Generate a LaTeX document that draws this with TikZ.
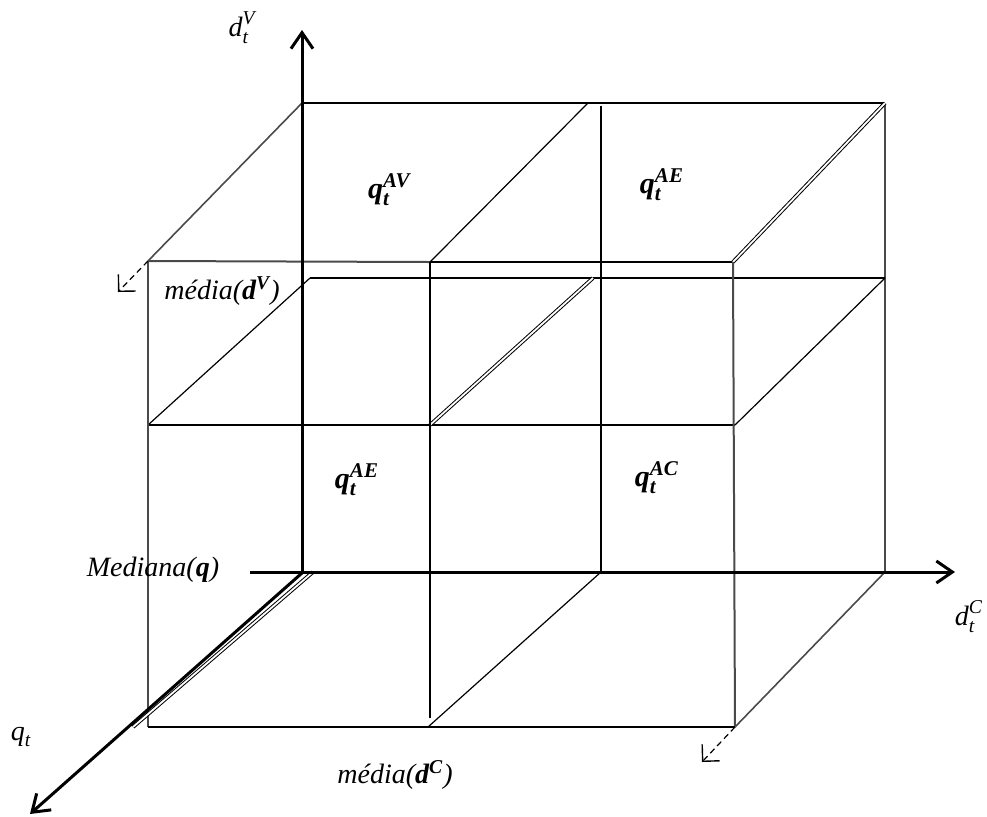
\documentclass[tikz,border=0pt]{standalone}
\usepackage{amsmath}
\usepackage{fontspec}
\setmainfont{Liberation Serif}
\usepackage{tikz}
\usetikzlibrary{arrows.meta}
\definecolor{cbDark}{HTML}{000000}
\definecolor{cbGray}{HTML}{4A4A4A}
\newcommand{\bi}[1]{\textbf{\textit{#1}}}
\tikzset{
  axisline/.style={line width=1.5pt, cbDark, -{Straight Barb[length=8pt, width=11pt, line width=1.5pt]}},
  frameline/.style={line width=1pt, cbDark},
  grayline/.style={line width=1pt, cbGray},
  thinline/.style={line width=0.6pt, cbDark},
  dblline/.style={double=white, draw=cbDark, line width=0.5pt, double distance=0.9pt},
  hint/.style={line width=0.6pt, dashed, dash pattern=on 3pt off 2pt, -{Straight Barb[length=6pt, width=12pt, line width=0.7pt]}},
  lbl/.style={font=\fontsize{14}{16}\selectfont\itshape, inner sep=0pt},
  cell/.style={font=\fontsize{15}{17}\selectfont, inner sep=0pt}
}
\begin{document}
\begin{tikzpicture}[x=0.5pt, y=-0.5pt]
  \useasboundingbox (0,0) rectangle (987,816);
  % axes ends
  \coordinate (O) at (302,573);
  \coordinate (vtip) at (302,30);
  \coordinate (htail) at (250,572);
  \coordinate (htip) at (955,572);
  \coordinate (qtip) at (30,814);
  % back corners
  \coordinate (bTL) at (302,103);
  \coordinate (bTM) at (588,103);
  \coordinate (bTR) at (885,103);
  \coordinate (bTV) at (601,106);
  \coordinate (bML) at (310,278);
  \coordinate (bMM) at (593,278);
  \coordinate (bMR) at (885,278);
  \coordinate (bBL) at (313,572);
  \coordinate (bBM) at (601,572);
  \coordinate (bBR) at (885,572);
  % front corners
  \coordinate (fTL) at (148,261);
  \coordinate (fTM) at (430,262);
  \coordinate (fTR) at (733,262);
  \coordinate (fML) at (148,425);
  \coordinate (fMM) at (430,425);
  \coordinate (fMR) at (735,425);
  \coordinate (fBL) at (148,727);
  \coordinate (fBX) at (133,727);
  \coordinate (fBM) at (428,727);
  \coordinate (fMV) at (430,718);
  \coordinate (fBR) at (735,727);
  % dashed ends
  \coordinate (dV) at (118,292);
  \coordinate (dC) at (702,762);

  % back frame
  \draw[frameline] (bTL) -- (bTR);
  \draw[grayline] (bTR) -- (bBR);
  \draw[frameline] (bTV) -- (bBM);
  % top plane
  \draw[grayline, line width=0.8pt] (bTL) -- (fTL);
  \draw[grayline] (fTL) -- (fTM);
  \draw[frameline] (fTM) -- (fTR);
  \draw[dblline] (fTR) -- (bTR);
  \draw[thinline] (bTM) -- (fTM);
  % middle plane
  \draw[thinline] (fML) -- (fMR);
  \draw[thinline] (bML) -- (bMR);
  \draw[thinline] (fML) -- (bML);
  \draw[dblline] (fMM) -- (bMM);
  \draw[thinline] (fMR) -- (bMR);
  % front frame
  \draw[grayline] (fTL) -- (fBL);
  \draw[frameline] (fTM) -- (fMV);
  \draw[grayline] (fTR) -- (fBR);
  \draw[frameline] (fBL) -- (fBR);
  % bottom plane
  \draw[thinline] (fBM) -- (bBM);
  \draw[grayline, line width=0.8pt] (fBR) -- (bBR);
  \draw[dblline] (fBX) -- (bBL);
  % axes
  \draw[axisline] (O) -- (vtip);
  \draw[axisline] (htail) -- (htip);
  \draw[axisline] (O) -- (qtip);
  % hints
  \draw[hint] (fTL) -- (dV);
  \draw[hint] (fBR) -- (dC);

  % labels
  \node[lbl] (lbdv) at (242,28) {$\textit{d}_{\textit{t}}^{\textit{V}}$};
  \node[lbl] (lbdc) at (969,617) {$\textit{d}_{\textit{t}}^{\textit{C}}$};
  \node[lbl] (lbqt) at (21,737) {$\textit{q}_{\textit{t}}$};
  \node[lbl] (lbmed) at (153,570) {Mediana(\bi{q})};
  \node[lbl] (lbmdv) at (222,291) {média(\bi{d}$^{\bi{V}}$)};
  \node[lbl] (lbmdc) at (395,775) {média(\bi{d}$^{\bi{C}}$)};
  \node[cell] (qav) at (390,190) {$\bi{q}_{\bi{t}}^{\bi{AV}}$};
  \node[cell] (qae1) at (662,185) {$\bi{q}_{\bi{t}}^{\bi{AE}}$};
  \node[cell] (qae2) at (357,480) {$\bi{q}_{\bi{t}}^{\bi{AE}}$};
  \node[cell] (qac) at (657,478) {$\bi{q}_{\bi{t}}^{\bi{AC}}$};
\end{tikzpicture}
\end{document}
